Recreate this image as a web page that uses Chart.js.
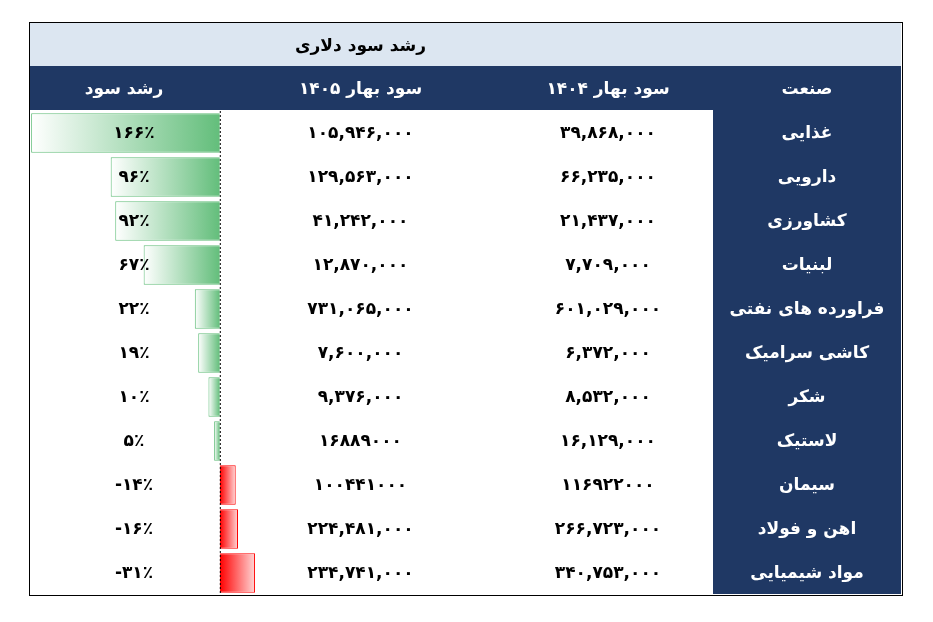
<!DOCTYPE html>
<html><head><meta charset="utf-8">
<script src="https://cdn.jsdelivr.net/npm/chart.js@4"></script>
<style>
body{margin:0;background:#fff;font-family:"DejaVu Sans",sans-serif;}
#wrap{position:absolute;left:29px;top:22px;width:874px;height:574px;border:1.5px solid #000;box-sizing:border-box;}
#cv{position:absolute;left:0;top:88px;z-index:0;}
table{position:absolute;left:0;top:0;z-index:1;border-collapse:collapse;width:871px;table-layout:fixed;direction:rtl;}
td{height:44px;padding:0;text-align:center;font-weight:bold;font-size:17px;color:#000;}
.title td{background:#dce6f1;height:43px;}
.head td{background:#1f3864;color:#fff;}
td.sec{background:#1f3864;color:#fff;}
</style></head><body>
<div id="wrap"><canvas id="cv" width="466" height="484"></canvas><table id="t"></table></div>
<script>
const sectors=["غذایی","دارویی","کشاورزی","لبنیات","فراورده های نفتی","کاشی سرامیک","شکر","لاستیک","سیمان","اهن و فولاد","مواد شیمیایی"];
const profit1404=["۳۹,۸۶۸,۰۰۰","۶۶,۲۳۵,۰۰۰","۲۱,۴۳۷,۰۰۰","۷,۷۰۹,۰۰۰","۶۰۱,۰۲۹,۰۰۰","۶,۳۷۲,۰۰۰","۸,۵۳۲,۰۰۰","۱۶,۱۲۹,۰۰۰","۱۱۶۹۲۲۰۰۰","۲۶۶,۷۲۳,۰۰۰","۳۴۰,۷۵۳,۰۰۰"];
const profit1405=["۱۰۵,۹۴۶,۰۰۰","۱۲۹,۵۶۳,۰۰۰","۴۱,۲۴۲,۰۰۰","۱۲,۸۷۰,۰۰۰","۷۳۱,۰۶۵,۰۰۰","۷,۶۰۰,۰۰۰","۹,۳۷۶,۰۰۰","۱۶۸۸۹۰۰۰","۱۰۰۴۴۱۰۰۰","۲۲۴,۴۸۱,۰۰۰","۲۳۴,۷۴۱,۰۰۰"];
const growth=[166,96,92,67,22,19,10,5,-14,-16,-31];
const growthLabels=["۱۶۶٪","۹۶٪","۹۲٪","۶۷٪","۲۲٪","۱۹٪","۱۰٪","۵٪","-۱۴٪","-۱۶٪","-۳۱٪"];

const t=document.getElementById('t');
let h='<colgroup><col style="width:188px"><col style="width:210px"><col style="width:285px"><col style="width:188px"></colgroup>';
h+='<tr class="title"><td></td><td></td><td style="text-align:center">رشد سود دلاری</td><td></td></tr>';
h+='<tr class="head"><td>صنعت</td><td>سود بهار ۱۴۰۴</td><td>سود بهار ۱۴۰۵</td><td>رشد سود</td></tr>';
sectors.forEach((s,i)=>{
  h+=`<tr><td class="sec">${s}</td><td>${profit1404[i]}</td><td>${profit1405[i]}</td><td style="direction:ltr;padding-left:20px">${growthLabels[i]}</td></tr>`;
});
t.innerHTML=h;

function barColor(ctx){
  const c=ctx.chart, x=c.scales && c.scales.x, v=ctx.raw;
  if(!x || v===undefined) return '#63be7b';
  const x0=x.getPixelForValue(0), x1=x.getPixelForValue(v);
  if(!isFinite(x0)||!isFinite(x1)) return v>=0?'#63be7b':'#ff3030';
  const g=c.ctx.createLinearGradient(x0,0,x1,0);
  if(v>=0){g.addColorStop(0,'#63be7b');g.addColorStop(1,'#ffffff');}
  else{g.addColorStop(0,'#ff0000');g.addColorStop(1,'#ffd6d6');}
  return g;
}
const zeroLine={id:'zeroLine',afterDatasetsDraw(c){
  const x=c.scales.x.getPixelForValue(0),k=c.ctx;
  k.save();k.setLineDash([2,2]);k.strokeStyle='#000';k.lineWidth=1;
  k.beginPath();k.moveTo(x+0.5,c.chartArea.top);k.lineTo(x+0.5,c.chartArea.bottom);k.stroke();k.restore();
}};
const chart=new Chart(document.getElementById('cv'),{
  type:'bar',
  data:{labels:sectors,datasets:[{data:growth,backgroundColor:barColor,
    borderColor:growth.map(v=>v>=0?'#63be7b':'#ff0000'),borderWidth:1,
    barPercentage:0.9,categoryPercentage:1}]},
  options:{indexAxis:'y',responsive:false,animation:false,
    layout:{padding:0},
    plugins:{legend:{display:false},tooltip:{enabled:false}},
    scales:{
      x:{reverse:true,min:-243,max:167,display:false},
      y:{display:false}
    }},
  plugins:[zeroLine]
});
chart.update();
</script></body></html>
